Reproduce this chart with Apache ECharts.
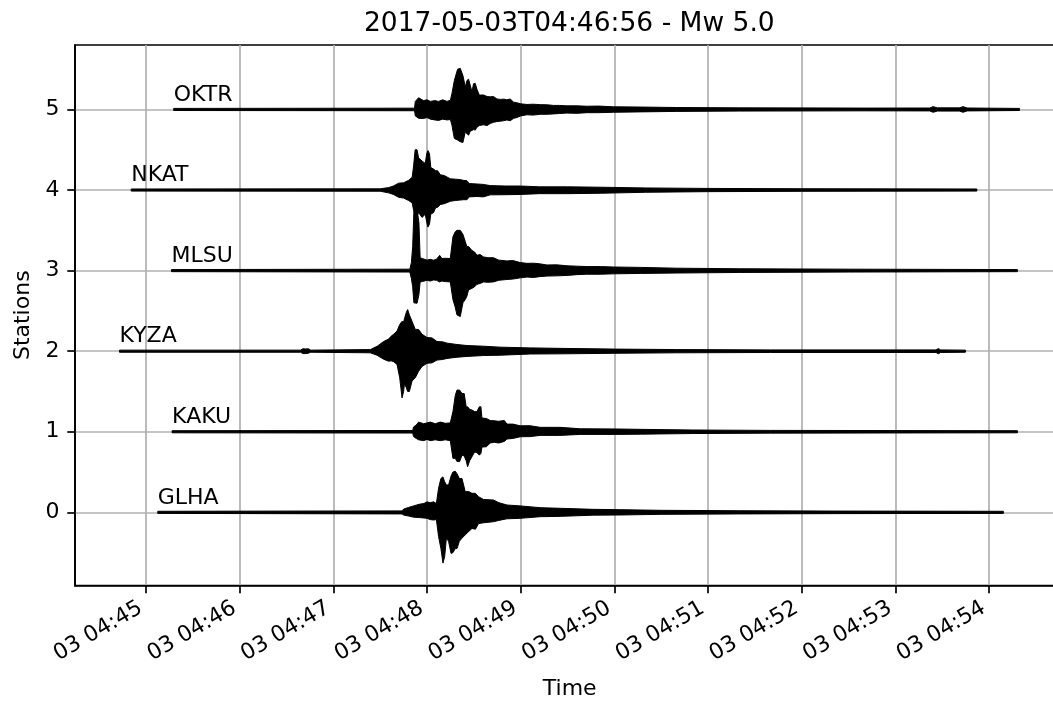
<!DOCTYPE html>
<html><head><meta charset="utf-8">
<script src="https://cdn.jsdelivr.net/npm/echarts@6/dist/echarts.min.js"></script>
<style>html,body{margin:0;padding:0;background:#fff}#c{width:1053px;height:715px}</style>
</head><body><div id="c"></div>
<script>
const titleText = '2017-05-03T04:46:56 - Mw 5.0';
const stations = ['GLHA', 'KAKU', 'KYZA', 'MLSU', 'NKAT', 'OKTR'];
const yTicks = [0, 1, 2, 3, 4, 5];
// x values: seconds after 2017-05-03T04:45:00 UTC
const xTicks = [0, 60, 120, 180, 240, 300, 360, 420, 480, 540];
const xTickLabels = ['03 04:45', '03 04:46', '03 04:47', '03 04:48', '03 04:49',
  '03 04:50', '03 04:51', '03 04:52', '03 04:53', '03 04:54'];
const traceStart = [7.5, 16.7, -17.0, 16.3, -9.5, 17.7];

// envelopes: [time (s), upper amplitude, lower amplitude]
const glhaEnv = [[7.5,.013,-.013],[164,.018,-.02],[165,.04,-.033],[168,.06,-.045],[171.4,.08,-.06],[175,.10,-.065],[178,.11,-.07],[180,.13,-.074],[182,.12,-.09],[184.2,.13,-.095],[186,.11,-.09],[187.4,.30,-.30],[188.9,.42,-.45],[190.2,.44,-.63],[191.3,.38,-.55],[192.4,.34,-.32],[193.8,.34,-.36],[195.4,.45,-.51],[196.6,.50,-.50],[198.1,.51,-.45],[199.2,.48,-.45],[200.7,.42,-.36],[202.4,.42,-.32],[204.5,.256,-.28],[206.6,.26,-.24],[208.8,.236,-.20],[211.0,.236,-.21],[213.0,.194,-.14],[216.2,.16,-.13],[222.6,.153,-.116],[226,.12,-.10],[231.2,.091,-.08],[239.7,.08,-.074],[252.5,.058,-.054],[265.3,.05,-.05],[286.7,.037,-.035],[303.8,.033,-.033],[330,.025,-.025],[380,.02,-.02],[440,.016,-.016],[549.2,.013,-.013]];
const kakuEnv = [[16.7,.013,-.013],[170.8,.016,-.016],[171.4,.06,-.06],[173.1,.083,-.083],[174.6,.12,-.10],[177.8,.10,-.11],[180,.11,-.095],[182.1,.12,-.11],[185.3,.10,-.10],[188.5,.12,-.11],[191.7,.105,-.10],[194.9,.11,-.11],[196.6,.25,-.33],[198.1,.45,-.33],[199.2,.517,-.37],[200.9,.517,-.37],[202.4,.475,-.29],[203.8,.475,-.30],[205.1,.31,-.36],[206.0,.31,-.434],[207.3,.28,-.36],[208.8,.27,-.31],[210.5,.25,-.25],[212.0,.25,-.26],[213.5,.31,-.29],[214.5,.31,-.27],[215.2,.17,-.19],[218,.165,-.186],[220.5,.14,-.14],[223,.136,-.13],[225.9,.13,-.14],[229.5,.14,-.12],[231.2,.095,-.09],[235,.095,-.083],[239.7,.074,-.062],[246,.075,-.06],[252.5,.055,-.045],[265,.055,-.045],[278.2,.037,-.033],[300,.035,-.033],[316.6,.03,-.03],[350,.022,-.022],[400,.017,-.017],[558.2,.013,-.013]];
const kyzaEnv = [[-17,.013,-.013],[99,.013,-.013],[100.5,.03,-.03],[102,.028,-.03],[104,.03,-.025],[105.5,.013,-.013],[143.7,.02,-.02],[148,.06,-.05],[152.2,.12,-.10],[155.4,.15,-.124],[157,.186,-.12],[158.6,.21,-.13],[160.8,.25,-.165],[162.5,.33,-.33],[164.0,.37,-.58],[165.0,.36,-.50],[165.5,.40,-.41],[166.7,.48,-.45],[167.6,.517,-.50],[168.7,.45,-.50],[170.4,.37,-.37],[172.5,.27,-.33],[174.6,.27,-.25],[176.8,.21,-.19],[180,.17,-.15],[183.2,.165,-.145],[186.4,.12,-.11],[190,.116,-.103],[192.8,.10,-.09],[199.2,.083,-.075],[205.6,.07,-.065],[216.2,.062,-.054],[226.9,.05,-.05],[246.1,.041,-.035],[265.3,.035,-.033],[300,.026,-.026],[340,.02,-.02],[400,.016,-.016],[506,.016,-.016],[507.6,.032,-.032],[509,.016,-.016],[524.9,.013,-.013]];
const mlsuEnv = [[16.3,.013,-.013],[169.0,.018,-.018],[170.0,.10,-.10],[170.8,.30,-.20],[171.6,.74,-.40],[173.6,.76,-.405],[174.8,.60,-.30],[175.6,.16,-.14],[177,.15,-.136],[180,.13,-.12],[182,.14,-.13],[184.2,.13,-.116],[186,.14,-.12],[188.1,.19,-.14],[189.5,.15,-.13],[191.7,.153,-.136],[194.9,.15,-.14],[196.6,.42,-.36],[198,.48,-.45],[199.2,.50,-.55],[201.3,.50,-.57],[203,.45,-.40],[204.5,.36,-.36],[205.5,.30,-.32],[206.6,.30,-.24],[208.8,.25,-.22],[210.5,.23,-.20],[212,.19,-.17],[214,.20,-.16],[216.2,.17,-.14],[219,.16,-.145],[222.6,.16,-.14],[226,.13,-.12],[231.2,.12,-.11],[235,.125,-.105],[239.7,.10,-.09],[244,.09,-.08],[248.3,.092,-.085],[252,.085,-.075],[256.8,.07,-.068],[263,.072,-.065],[269.6,.06,-.06],[276,.055,-.05],[282.4,.05,-.045],[291,.05,-.045],[299.5,.045,-.04],[316.6,.04,-.035],[340,.03,-.03],[380,.023,-.023],[450,.018,-.018],[558.2,.013,-.013]];
const nkatEnv = [[-9.5,.013,-.013],[150,.015,-.015],[155.4,.03,-.035],[158.5,.05,-.055],[161.8,.085,-.09],[165,.09,-.10],[168.2,.12,-.13],[170.5,.16,-.16],[171.4,.30,-.25],[172.4,.50,-.30],[173.6,.50,-.32],[174.6,.40,-.28],[176.8,.36,-.34],[178.9,.33,-.30],[179.8,.45,-.40],[180.6,.49,-.46],[181.6,.45,-.42],[182.4,.28,-.30],[184.2,.26,-.28],[185.5,.24,-.22],[186.8,.24,-.215],[188.5,.19,-.18],[191,.18,-.17],[194.9,.14,-.14],[198,.135,-.13],[201,.13,-.125],[203.4,.12,-.12],[205.6,.116,-.12],[207,.08,-.085],[212,.075,-.08],[216,.07,-.085],[220.5,.055,-.06],[230,.05,-.058],[239.7,.05,-.055],[252,.04,-.045],[270,.04,-.045],[291,.035,-.04],[320,.026,-.028],[360,.02,-.02],[420,.016,-.016],[532.2,.013,-.013]];
const oktrEnv = [[17.7,.013,-.013],[172.0,.016,-.016],[172.5,.10,-.08],[174.6,.145,-.11],[177.8,.11,-.112],[180.0,.12,-.10],[182.1,.10,-.12],[185.0,.11,-.13],[187.4,.10,-.136],[190.0,.12,-.12],[192.8,.10,-.13],[195.0,.115,-.125],[196.0,.20,-.20],[197.5,.36,-.36],[199.6,.50,-.38],[201.3,.51,-.40],[203.0,.42,-.41],[204.5,.28,-.28],[205.6,.36,-.30],[206.6,.376,-.32],[207.7,.30,-.27],[208.8,.22,-.26],[209.8,.32,-.25],[210.9,.323,-.256],[212.0,.25,-.22],[213.5,.178,-.20],[216.2,.18,-.19],[218.5,.16,-.20],[220.5,.157,-.174],[222.6,.16,-.16],[224.8,.13,-.15],[227.0,.125,-.145],[229.1,.128,-.14],[231.2,.12,-.13],[233.3,.13,-.14],[235.5,.09,-.11],[237.6,.083,-.10],[240.0,.07,-.08],[244.0,.062,-.066],[248.0,.065,-.07],[252.5,.06,-.06],[257.0,.058,-.06],[261.1,.05,-.055],[265.0,.05,-.05],[269.6,.045,-.045],[276.0,.045,-.048],[282.5,.04,-.04],[290.0,.042,-.04],[299.5,.033,-.035],[316.6,.03,-.03],[340,.024,-.024],[380,.02,-.02],[460,.017,-.017],[502,.018,-.018],[504.2,.035,-.035],[507,.02,-.02],[521,.02,-.02],[523.4,.035,-.035],[526,.018,-.018],[559.5,.013,-.013]];
const envelopes = [glhaEnv, kakuEnv, kyzaEnv, mlsuEnv, nkatEnv, oktrEnv];

const FONT = 'DejaVu Sans';
const LABEL_LIFT = 0.18;
const chart = echarts.init(document.getElementById('c'), null, {renderer: 'canvas'});
const option = {
  animation: false,
  backgroundColor: '#fff',
  title: {
    text: titleText, left: 364, top: 10.5, padding: 0,
    textStyle: {fontFamily: FONT, fontSize: 26.5, fontWeight: 'normal', color: '#000', lineHeight: 26.5}
  },
  grid: {left: 75, right: -11.4, top: 45, bottom: 129.5, outerBoundsMode: 'none', containLabel: false,
    show: true, borderColor: '#000', borderWidth: 1.7, backgroundColor: 'transparent'},
  xAxis: {
    type: 'value', min: -45.5, max: 588.3,
    name: 'Time', nameLocation: 'middle', nameGap: 104,
    nameTextStyle: {fontFamily: FONT, fontSize: 22, color: '#000', verticalAlign: 'middle'},
    axisLine: {onZero: false, lineStyle: {color: '#000', width: 1.7}},
    axisTick: {customValues: xTicks, length: 7.7, lineStyle: {color: '#000', width: 1.7}},
    axisLabel: {
      customValues: xTicks, rotate: 30, margin: 18, padding: [0, 6, 0, 0],
      fontFamily: FONT, fontSize: 22, color: '#000',
      formatter: v => xTickLabels[xTicks.indexOf(v)]
    },
    splitLine: {show: true, lineStyle: {color: '#b0b0b0', width: 1.7}}
  },
  yAxis: {
    type: 'value', min: -0.908, max: 5.80,
    name: 'Stations', nameLocation: 'middle', nameGap: 52,
    nameTextStyle: {fontFamily: FONT, fontSize: 22, color: '#000', verticalAlign: 'middle'},
    axisLine: {show: true, onZero: false, lineStyle: {color: '#000', width: 1.7}},
    axisTick: {show: true, customValues: yTicks, length: 7.7, lineStyle: {color: '#000', width: 1.7}},
    axisLabel: {customValues: yTicks, margin: 15.4, fontFamily: FONT, fontSize: 22, color: '#000'},
    splitLine: {show: true, lineStyle: {color: '#b0b0b0', width: 1.7}}
  },
  series: [{
    type: 'custom',
    coordinateSystem: 'cartesian2d',
    data: stations.map((s, i) => [traceStart[i], i]),
    encode: {x: 0, y: 1},
    clip: true,
    renderItem: function (params, api) {
      const i = params.dataIndex;
      const env = envelopes[i];
      const top = env.map(p => api.coord([p[0], i + p[1]]));
      const bot = env.slice().reverse().map(p => api.coord([p[0], i + p[2]]));
      const lab = api.coord([traceStart[i], i + LABEL_LIFT]);
      return {
        type: 'group',
        children: [
          {type: 'polygon', shape: {points: top.concat(bot)}, style: {fill: '#000', stroke: '#000', lineWidth: 1}},
          {type: 'text', x: lab[0], y: lab[1], style: {text: stations[i], fill: '#000', font: '22px "DejaVu Sans"', textAlign: 'left', textVerticalAlign: 'middle'}}
        ]
      };
    }
  }]
};
chart.setOption(option);
</script>
</body></html>
